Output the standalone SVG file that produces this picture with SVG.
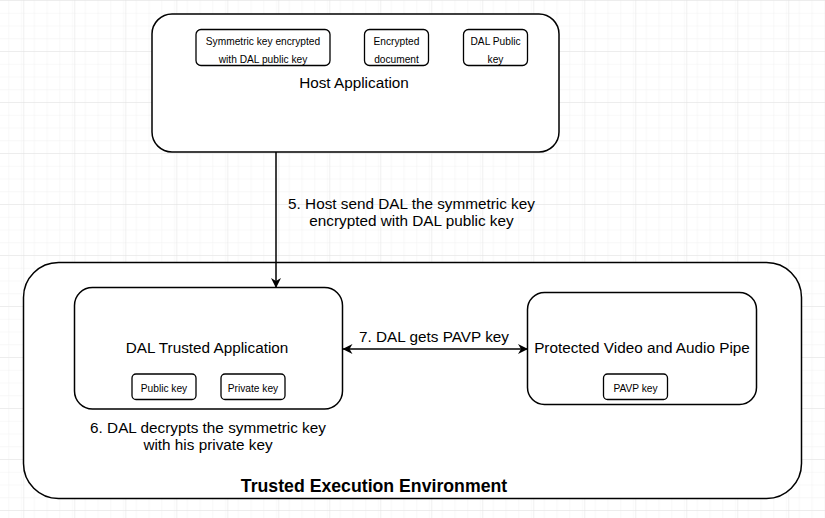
<svg xmlns="http://www.w3.org/2000/svg" width="825" height="518" viewBox="0 0 825 518">
<defs>
<pattern id="minor" x="23.3" y="0" width="12.75" height="12.75" patternUnits="userSpaceOnUse">
<path d="M0 0H12.75M0 0V12.75" fill="none" stroke="#f1f1f1" stroke-width="1"/>
</pattern>
<pattern id="major" x="23.3" y="0" width="51" height="51" patternUnits="userSpaceOnUse">
<rect width="51" height="51" fill="url(#minor)"/>
<path d="M0 0H51M0 0V51" fill="none" stroke="#e2e2e2" stroke-width="1"/>
</pattern>
<marker id="arr" viewBox="0 0 10 10" refX="9.5" refY="5" markerWidth="10" markerHeight="10" markerUnits="userSpaceOnUse" orient="auto-start-reverse">
<path d="M0 0L10 5L0 10L3 5Z" fill="#000"/>
</marker>
</defs>
<style>
.box{fill:#fff;stroke:#000;stroke-width:1.5}
.sm{fill:#fff;stroke:#000;stroke-width:1.3}
.t{font-family:"Liberation Sans",Arial,sans-serif;fill:#000;text-anchor:middle}
.big{font-size:15.3px}
.small{font-size:10.2px}
.lbl{font-size:15.3px}
.edge{fill:none;stroke:#000;stroke-width:1.5}
</style>
<rect width="825" height="518" fill="#fff"/>
<rect width="825" height="518" fill="url(#major)"/>

<g id="host">
<rect class="box" x="152" y="14" width="407" height="138" rx="20" ry="20"/>
<text class="t big" x="354" y="88">Host Application</text>
</g>
<g id="host-symkey">
<rect class="sm" x="196" y="29.5" width="134" height="36" rx="5" ry="5"/>
<text class="t small" x="263" y="44.5">Symmetric key encrypted</text>
<text class="t small" x="263" y="62.8">with DAL public key</text>
</g>
<g id="host-encdoc">
<rect class="sm" x="364.5" y="29.5" width="64" height="36" rx="5" ry="5"/>
<text class="t small" x="396.5" y="44.5">Encrypted</text>
<text class="t small" x="396.5" y="62.8">document</text>
</g>
<g id="host-dalpub">
<rect class="sm" x="463.5" y="29.5" width="64" height="36" rx="5" ry="5"/>
<text class="t small" x="495.5" y="44.5">DAL Public</text>
<text class="t small" x="495.5" y="62.8">key</text>
</g>

<g id="tee">
<rect class="box" x="23.5" y="262.5" width="778" height="236" rx="35" ry="35"/>
<text class="t" x="374" y="491.5" style="font-size:17.7px;font-weight:bold">Trusted Execution Environment</text>
</g>

<g id="dal">
<rect class="box" x="74.5" y="287.5" width="268" height="121.5" rx="18" ry="18"/>
<text class="t big" x="207" y="353">DAL Trusted Application</text>
</g>
<g id="dal-pub">
<rect class="sm" x="132" y="374" width="64" height="25.5" rx="4" ry="4"/>
<text class="t small" x="164" y="392">Public key</text>
</g>
<g id="dal-priv">
<rect class="sm" x="221" y="374" width="64" height="25.5" rx="4" ry="4"/>
<text class="t small" x="253" y="392">Private key</text>
</g>

<g id="pavp">
<rect class="box" x="527.5" y="292.5" width="229" height="112" rx="17" ry="17"/>
<text class="t big" x="642" y="353">Protected Video and Audio Pipe</text>
</g>
<g id="pavp-key">
<rect class="sm" x="603.5" y="374" width="64" height="25.5" rx="4" ry="4"/>
<text class="t small" x="635.5" y="392">PAVP key</text>
</g>

<g id="connectors">
<line class="edge" x1="276" y1="152" x2="276" y2="287.5" marker-end="url(#arr)"/>
<text class="t lbl" x="411.5" y="208.8">5. Host send DAL the symmetric key</text>
<text class="t lbl" x="411.5" y="226">encrypted with DAL public key</text>
<line class="edge" x1="343" y1="349" x2="527.5" y2="349" marker-start="url(#arr)" marker-end="url(#arr)"/>
<text class="t lbl" x="434" y="341.5">7. DAL gets PAVP key</text>
<text class="t lbl" x="208" y="432.8">6. DAL decrypts the symmetric key</text>
<text class="t lbl" x="208" y="450">with his private key</text>
</g>
</svg>
